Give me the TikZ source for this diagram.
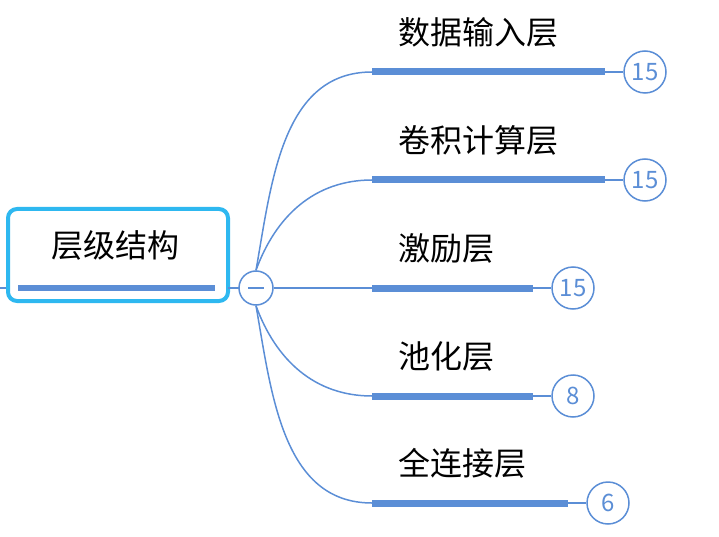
\documentclass[tikz,border=0pt]{standalone}
\usepackage{fontspec}
\setmainfont{Noto Sans CJK SC}
\definecolor{bl}{HTML}{5B8ED6}
\definecolor{cy}{HTML}{2EB8F0}
\begin{document}
\begin{tikzpicture}[x=1pt,y=-1pt,
 lbl/.style={anchor=west,inner sep=0,font=\fontsize{32}{36}\selectfont},
 bar/.style={bl,line width=7pt},
 num/.style={circle,draw=bl,line width=1.5pt,fill=white,minimum size=42pt,inner sep=0,text=bl,font=\fontsize{24}{26}\selectfont},
 br/.style={bl,line width=1.5pt}]
\useasboundingbox (0,0) rectangle (719,537);
\node[draw=cy,line width=4pt,rounded corners=9pt,minimum width=220pt,minimum height=92pt] (root) at (118,255) {};
\node[font=\fontsize{32}{36}\selectfont] (rt) at (115,245) {层级结构};
\coordinate (l0) at (0,288);
\draw[br] (l0) -- (root.west|-l0);
\draw[bar,line width=6pt] (18,288) -- (215,288);
\draw[br] (228,288) -- (239,288);
\node[circle,draw=bl,line width=1.5pt,fill=white,minimum size=34pt,inner sep=0] (c) at (256,288) {};
\draw[br] (248,288) -- (264,288);
\foreach \y/\e/\t/\n/\nm [count=\i] in {72/605/数据输入层/15/n1,180/605/卷积计算层/15/n2,288/533/激励层/15/n3,396/533/池化层/8/n4,503/568/全连接层/6/n5}{
  \coordinate (s\i) at (372,\y);
  \coordinate (e\i) at (\e,\y);
  \node[lbl] (t\i) at (398,\y-40) {\t};
  \node[num] (\nm) at (\e+40,\y) {\n};
  \draw[bar] (s\i) -- (e\i);
  \draw[br] (e\i) -- (\nm);
}
\draw[br] (c.north) to[out=80,in=180] (s1);
\draw[br] (c.north) to[out=70,in=180] (s2);
\draw[br] (c.east) -- (s3);
\draw[br] (c.south) to[out=-70,in=180] (s4);
\draw[br] (c.south) to[out=-80,in=180] (s5);
\end{tikzpicture}
\end{document}
